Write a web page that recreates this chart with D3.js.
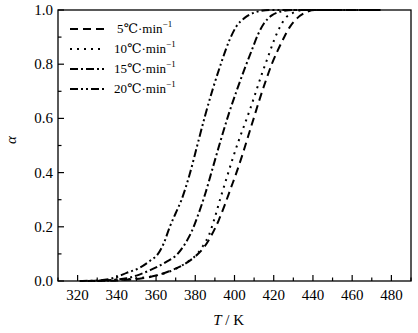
<!DOCTYPE html>
<html><head><meta charset="utf-8">
<script src="https://cdn.jsdelivr.net/npm/d3@7"></script>
<style>body{margin:0;background:#fff}svg{display:block}</style>
</head><body><svg id="c" width="418" height="333"></svg>
<script>
const FONT = "'Liberation Serif', 'DejaVu Serif', 'Times New Roman', serif";
const seriesNames = ["5℃·min", "10℃·min", "15℃·min", "20℃·min"];
const s5 = [[330,0],[340,0.002],[353,0.01],[360,0.02],[367,0.037],[374,0.06],[379,0.085],[384,0.12],[388,0.165],[392,0.225],[395,0.28],[398,0.34],[401,0.4],[404,0.465],[407,0.535],[410,0.605],[413,0.675],[416,0.74],[419,0.8],[422,0.85],[425,0.895],[428,0.935],[432,0.97],[436,0.99],[441,1.0],[475,1.0]];
const s10 = [[328,0],[340,0.003],[350,0.01],[360,0.02],[370,0.045],[376,0.07],[381,0.1],[384,0.13],[387,0.17],[390,0.235],[393,0.31],[396,0.38],[399,0.45],[402,0.515],[405,0.575],[408,0.635],[411,0.7],[414,0.765],[417,0.825],[420,0.885],[423,0.935],[426,0.97],[430,0.99],[435,1.0],[475,1.0]];
const s15 = [[325,0],[335,0.003],[345,0.01],[350,0.02],[357,0.04],[365,0.07],[371,0.1],[375,0.14],[378,0.18],[381,0.235],[385,0.32],[389,0.42],[393,0.52],[397,0.615],[401,0.7],[405,0.78],[409,0.855],[412,0.91],[415,0.95],[419,0.98],[424,0.995],[430,1.0],[474,1.0]];
const s20 = [[321,0],[330,0.002],[340,0.015],[345,0.03],[352,0.05],[357,0.075],[361,0.1],[364,0.14],[367,0.2],[370,0.25],[373,0.3],[377,0.39],[381,0.5],[385,0.61],[389,0.71],[393,0.8],[397.5,0.89],[401,0.94],[405,0.97],[410,0.99],[418,1.0],[472,1.0]];
const xTicks = [320,340,360,380,400,420,440,460,480];
const yTicks = [0.0,0.2,0.4,0.6,0.8,1.0];
const dashes = ["8,5", "2,5", "8,3,2,3", "8,3,2,3,2,3"];

const svg = d3.select("#c");
const L=58, R=411, T=10, B=281;
const x = d3.scaleLinear().domain([310,490]).range([L,R]);
const y = d3.scaleLinear().domain([0,1]).range([B,T]);

svg.append("rect").attr("x",L).attr("y",T).attr("width",R-L).attr("height",B-T).attr("fill","none").attr("stroke","#000").attr("stroke-width",1.3);

const xMinor = d3.range(310,491,10);
svg.selectAll(".xm").data(xMinor).enter().append("line")
  .attr("x1",d=>x(d)).attr("x2",d=>x(d)).attr("y1",B).attr("y2",d=>B-(xTicks.includes(d)?6:3.5))
  .attr("stroke","#000").attr("stroke-width",1.2);
svg.selectAll(".xl").data(xTicks).enter().append("text")
  .attr("font-family",FONT)
  .attr("x",d=>x(d)).attr("y",B+19).attr("text-anchor","middle").attr("font-size",15).text(d=>d);
const yMinor = d3.range(0,11).map(i=>i/10);
svg.selectAll(".ym").data(yMinor).enter().append("line")
  .attr("x1",L).attr("x2",(d,i)=>L+(i%2===0?6:3.5)).attr("y1",d=>y(d)).attr("y2",d=>y(d))
  .attr("stroke","#000").attr("stroke-width",1.2);
svg.selectAll(".yl").data(yTicks).enter().append("text")
  .attr("font-family",FONT)
  .attr("x",L-5).attr("y",d=>y(d)+5).attr("text-anchor","end").attr("font-size",15).text(d=>d.toFixed(1));

const xt = svg.append("text").attr("font-family",FONT).attr("x",x(397)).attr("y",325).attr("text-anchor","middle").attr("font-size",15);
xt.append("tspan").attr("font-style","italic").text("T");
xt.append("tspan").text(" / K");
svg.append("text").attr("font-family",FONT).attr("transform","translate(16,140) rotate(-90)").attr("text-anchor","middle")
  .attr("font-size",15).attr("font-style","italic").text("α");

const line = d3.line().x(d=>x(d[0])).y(d=>y(d[1])).curve(d3.curveMonotoneX);
[s5,s10,s15,s20].forEach((s,i)=>{
  svg.append("path").attr("d",line(s)).attr("fill","none").attr("stroke","#000")
    .attr("stroke-width",2).attr("stroke-dasharray",dashes[i]);
});

const ly = [29,49,69,89];
seriesNames.forEach((n,i)=>{
  svg.append("line").attr("x1",70).attr("x2",104).attr("y1",ly[i]).attr("y2",ly[i])
    .attr("stroke","#000").attr("stroke-width",2.2).attr("stroke-dasharray",dashes[i]);
  const t = svg.append("text").attr("font-family",FONT).attr("x",i===0?117:114).attr("y",ly[i]+4).attr("font-size",13);
  t.append("tspan").text(n);
  t.append("tspan").attr("dy",-6).attr("font-size",9).text("−1");
});
</script></body></html>
